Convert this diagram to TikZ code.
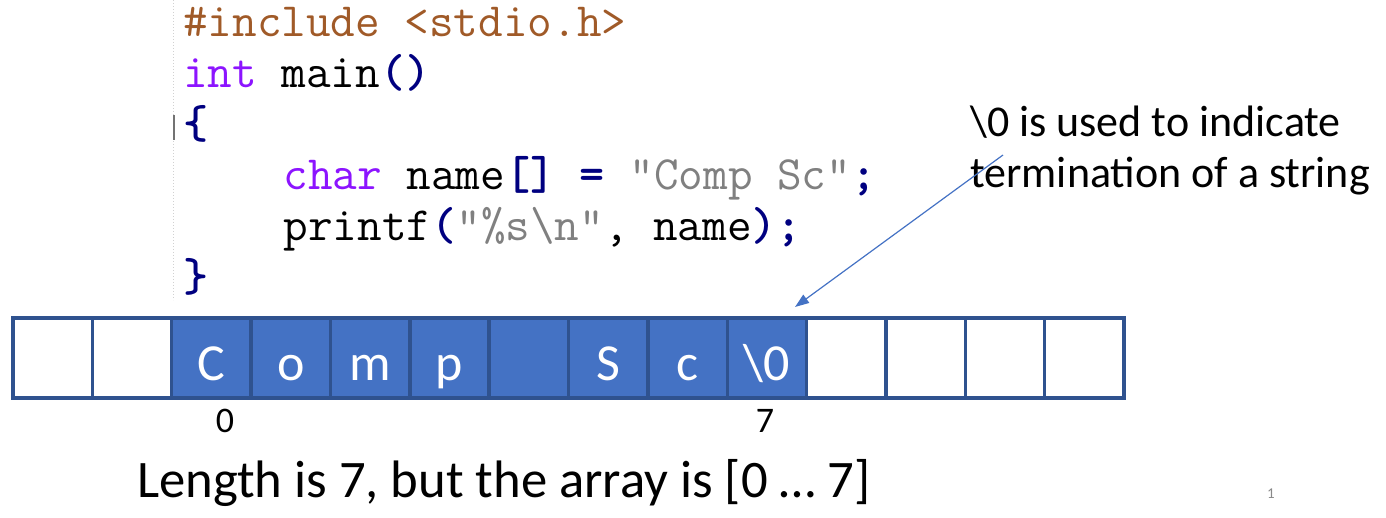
\documentclass[tikz,border=0pt]{standalone}
\usepackage{fontspec}
\setmainfont{Carlito}
\usetikzlibrary{arrows.meta}
\definecolor{cellblue}{HTML}{4472C4}
\definecolor{celledge}{HTML}{2F528F}
\definecolor{incl}{RGB}{160,90,40}
\definecolor{kw}{RGB}{140,20,255}
\definecolor{op}{RGB}{0,0,128}
\definecolor{str}{RGB}{128,128,128}
\definecolor{pgnum}{RGB}{137,137,137}
\newcommand{\codesz}{\fontsize{47.8}{51}\selectfont\ttfamily}
\newcommand{\opc}[1]{\textcolor{op}{\bfseries #1}}
\begin{document}
\begin{tikzpicture}[x=1pt,y=-1pt,
  cell/.style={draw=celledge,line width=3.5pt,minimum width=79.36pt,minimum height=80pt,inner sep=0pt,outer sep=0pt},
  full/.style={cell,fill=cellblue,text=white,font=\fontsize{52}{60}\selectfont,text height=50pt,text depth=6pt},
  empty/.style={cell,fill=white},
  code/.style={anchor=base west,inner sep=0pt,font=\codesz},
  idx/.style={anchor=base,inner sep=0pt,font=\fontsize{36}{40}\selectfont},
  note/.style={anchor=base west,inner sep=0pt,font=\fontsize{44}{52}\selectfont},
  pointer/.style={draw=cellblue,line width=1.2pt,-{Triangle[length=14pt,width=10pt]}}]
\useasboundingbox (0,0) rectangle (1386,518);
% gutter of the code picture
\draw[black!18,line width=1pt,dotted] (173,0) -- (173,300);
\draw[black!55,line width=2.5pt] (174,115) -- (174,140);
% code
\node[code] (l1) at (183,37) {\textcolor{incl}{\#include <stdio.h>}};
\node[code] (l2) at (183,88) {\textcolor{kw}{int} main\opc{()}};
\node[code] (l3) at (183,139) {\opc{\{}};
\node[code] (l4) at (283.4,190) {\textcolor{kw}{char} name\opc{[]} \opc{=} \textcolor{str}{"Comp Sc"}\opc{;}};
\node[code] (l5) at (283.4,241) {printf\opc{(}\textcolor{str}{"\%s\textbackslash n"}, name\opc{);}};
\node[code] (l6) at (183,292) {\opc{\}}};
% array cells
\foreach \i/\t/\s in {0//empty,1//empty,2/C/full,3/o/full,4/m/full,5/p/full,6//full,7/S/full,8/c/full,9/\textbackslash 0/full,10//empty,11//empty,12//empty,13//empty}{
  \node[\s] (c\i) at ({13+79.36*\i+39.68},358) {\t};
}
% indices
\node[idx] (i0) at (225,432) {0};
\node[idx] (i7) at (765,432) {7};
% bottom caption
\node[anchor=base west,inner sep=0pt,font=\fontsize{52.7}{60}\selectfont] (cap) at (137,497) {Length is 7, but the array is [0 … 7]};
% annotation
\node[note] (n1) at (970,137) {\textbackslash 0 is used to indicate};
\node[note] (n2) at (970,188) {termination of a string};
\coordinate (tail) at (1003,155);
\coordinate (tip) at (795,307);
\draw[pointer] (tail) -- (tip);
% page number
\node[anchor=base,inner sep=0pt,font=\fontsize{15}{18}\selectfont,text=pgnum] (pg) at (1271,498) {1};
\end{tikzpicture}
\end{document}
